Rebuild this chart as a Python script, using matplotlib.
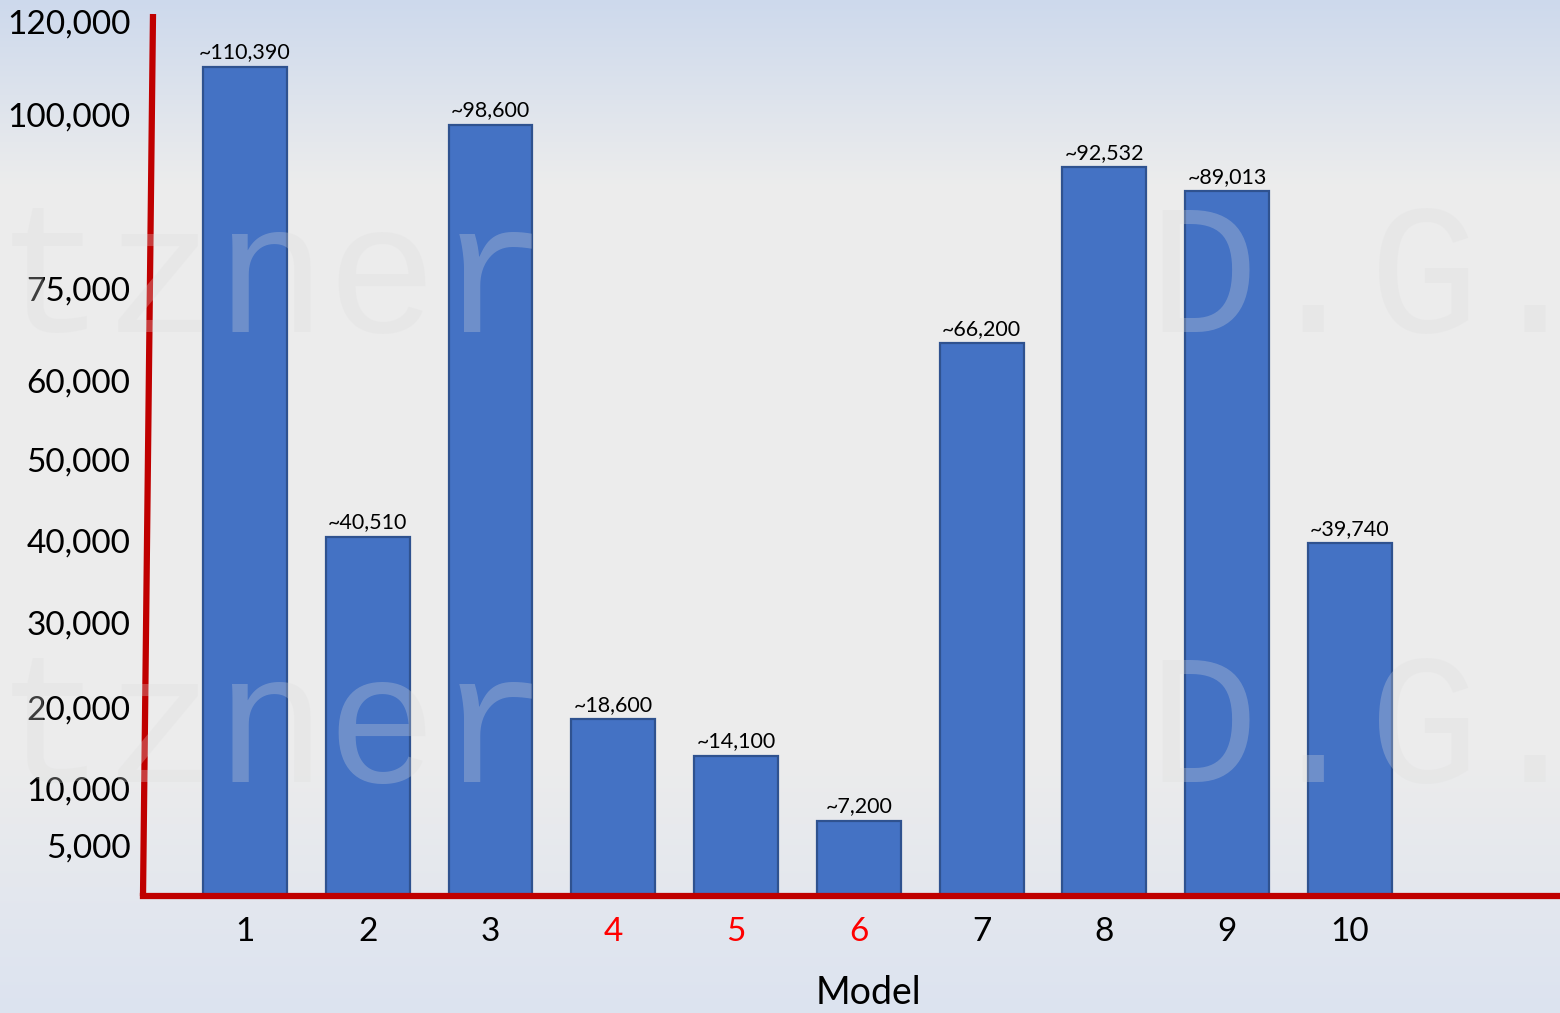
import matplotlib.pyplot as plt
from matplotlib.colors import to_rgb
import numpy as np

# data
models = ['1', '2', '3', '4', '5', '6', '7', '8', '9', '10']
values = [110390, 40510, 98600, 18600, 14100, 7200, 66200, 92532, 89013, 39740]
labels = ['~110,390', '~40,510', '~98,600', '~18,600', '~14,100', '~7,200',
          '~66,200', '~92,532', '~89,013', '~39,740']
red_models = ['4', '5', '6']

# the value axis is not linear: tick values and where they sit (pixels above baseline)
tick_vals = [5000, 10000, 20000, 30000, 40000, 50000, 60000, 75000, 100000, 120000]
scale_vals = [0, 5000, 10000, 20000, 30000, 40000, 50000, 60000, 75000, 100000, 120000, 121720]
scale_pos = [0, 50, 107, 188, 273, 355, 436, 515, 607, 781, 874, 882]

W, H = 1560, 1013
fig = plt.figure(figsize=(W / 100, H / 100), dpi=100)

# background gradient
bg = fig.add_axes([0, 0, 1, 1], zorder=-10)
stops_y = [0, 190, 760, 1013]
stops_c = ['#cdd9ec', '#ededed', '#ececec', '#dce3f0']
ys = np.arange(H)
grad = np.zeros((H, 1, 3))
for ch in range(3):
    grad[:, 0, ch] = np.interp(ys, stops_y, [to_rgb(c)[ch] for c in stops_c])
bg.imshow(grad, aspect='auto', extent=[0, 1, 1, 0])
bg.axis('off')

ax = fig.add_axes([143 / W, 117 / H, 1417 / W, 882 / H])
ax.set_facecolor('none')


def fwd(v):
    return np.interp(v, scale_vals, scale_pos)


def inv(p):
    return np.interp(p, scale_pos, scale_vals)


ax.set_yscale('function', functions=(fwd, inv))
ax.set_ylim(0, 121720)
ax.set_xlim(-0.83, 10.71)

x = np.arange(len(models))
ax.bar(x, values, width=0.684, color='#4472C4', edgecolor='#2F528F', linewidth=1.6, zorder=2)

for xi, v, t in zip(x, values, labels):
    ax.annotate(t, (xi, v), xytext=(0, 6), textcoords='offset points',
                ha='center', va='baseline', fontsize=15.5, family='Lato', zorder=4)

ax.set_yticks(tick_vals)
ax.set_yticklabels([f'{v:,}' for v in tick_vals], fontsize=24, family='Lato')
ax.set_xticks(x)
ax.set_xticklabels(models, fontsize=24, family='Lato')
for lab in ax.get_xticklabels():
    if lab.get_text() in red_models:
        lab.set_color('#FF0000')
ax.tick_params(axis='y', length=0, pad=9)
ax.tick_params(axis='x', length=0, pad=15)
ax.minorticks_off()

for s in ax.spines.values():
    s.set_visible(False)

# red axis lines
ax.axhline(0, color='#C00000', lw=4.5, zorder=3, clip_on=False)
ax.plot([0, 10 / 1417], [0, 1], color='#C00000', lw=4.5, transform=ax.transAxes,
        clip_on=False, zorder=3, solid_capstyle='butt')

ax.set_xlabel('Model', fontsize=27, family='Lato')
ax.xaxis.set_label_coords(0.512, -0.09)

# watermark
wm = dict(family='Liberation Mono', fontsize=133, color='#dddddd', alpha=0.28,
          va='baseline', ha='left', zorder=20)
for yb in (332, 782):
    fig.text(-5 / W, 1 - yb / H, 'tzner', **wm)
    fig.text(1147 / W, 1 - yb / H, 'D.G.', **wm)

plt.savefig('out.png', dpi=100)
